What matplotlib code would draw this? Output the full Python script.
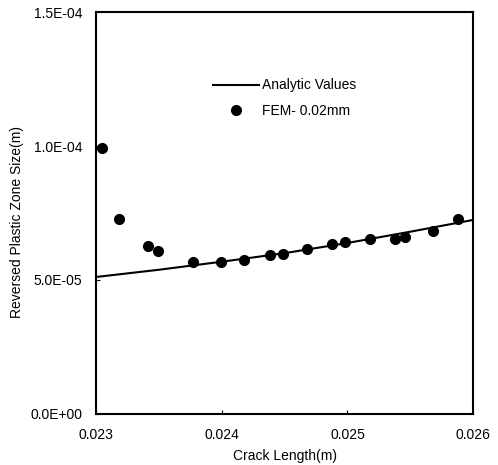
import matplotlib
matplotlib.use("Agg")
import matplotlib.pyplot as plt

plt.rcParams["font.family"] = ["Liberation Sans", "DejaVu Sans"]

# analytic curve
crack_analytic = [0.0230, 0.0235, 0.0240, 0.0245, 0.0250, 0.0255, 0.0260]
zone_analytic = [5.11e-5, 5.38e-5, 5.68e-5, 6.00e-5, 6.38e-5, 6.80e-5, 7.24e-5]

# FEM points, 0.02 mm mesh
crack_fem = [0.02305, 0.02318, 0.02341, 0.02349, 0.02377, 0.02399, 0.02418,
             0.02438, 0.02449, 0.02468, 0.02488, 0.02498, 0.02518, 0.02538,
             0.02546, 0.02568, 0.02588]
zone_fem = [9.93e-5, 7.28e-5, 6.27e-5, 6.07e-5, 5.67e-5, 5.67e-5, 5.75e-5,
            5.92e-5, 5.96e-5, 6.15e-5, 6.36e-5, 6.40e-5, 6.52e-5, 6.53e-5,
            6.59e-5, 6.84e-5, 7.26e-5]

x_ticks = [0.023, 0.024, 0.025, 0.026]
x_labels = ["0.023", "0.024", "0.025", "0.026"]
y_ticks = [0.0, 5.0e-5, 1.0e-4, 1.5e-4]
y_labels = ["0.0E+00", "5.0E-05", "1.0E-04", "1.5E-04"]

fig = plt.figure(figsize=(4.98, 4.65), dpi=100)
ax = fig.add_axes([0.193, 0.110, 0.757, 0.864])

ax.plot(crack_analytic, zone_analytic, color="black", linewidth=1.5,
        label="Analytic Values")
ax.plot(crack_fem, zone_fem, linestyle="none", marker="o", markersize=7,
        color="black", label="FEM- 0.02mm")

ax.set_xlim(0.023, 0.026)
ax.set_ylim(0.0, 1.5e-4)
ax.set_xticks(x_ticks)
ax.set_xticklabels(x_labels)
ax.set_yticks(y_ticks)
ax.set_yticklabels(y_labels)
ax.tick_params(axis="x", direction="in", length=3, labelsize=10, pad=10)
ax.tick_params(axis="y", direction="in", length=3, labelsize=10, pad=10)

for s in ax.spines.values():
    s.set_linewidth(1.5)

ax.set_xlabel("Crack Length(m)", fontsize=10, labelpad=5)
ax.set_ylabel("Reversed Plastic Zone Size(m)", fontsize=10)
# label sits a little below the axes centre in the original
ax.yaxis.set_label_coords(-0.19, 0.478)

ax.legend(loc="upper left", bbox_to_anchor=(0.31, 0.835), frameon=False,
          fontsize=10, handlelength=3.3, handletextpad=0.2, labelspacing=0.85,
          borderpad=0, borderaxespad=0)

fig.savefig("out.png", dpi=100)
